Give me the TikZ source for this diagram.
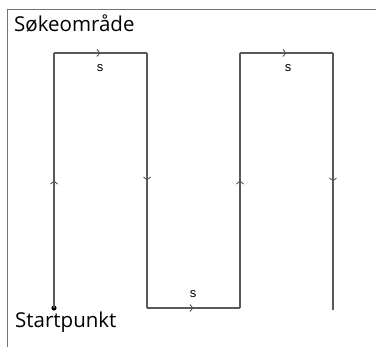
\documentclass[tikz,border=0pt]{standalone}
\usepackage{fontspec}
\setmainfont{Open Sans}
\newfontfamily\labelfont{Liberation Sans}
\usetikzlibrary{positioning, arrows.meta, decorations.markings}

\tikzset{
  track/.style={draw=black!65, line width=1.1pt},
  midarrow/.style={postaction={decorate, decoration={markings,
    mark=at position 0.5 with {\arrow{Straight Barb[length=3pt,width=7pt,line width=0.9pt]}}}}},
  slabel/.style={font=\labelfont\fontsize{13}{13}\selectfont, inner sep=0pt},
  title/.style={font=\fontsize{20.5}{20.5}\selectfont, inner sep=0pt, anchor=base west}
}

\begin{document}
\begin{tikzpicture}[x=1pt, y=-1pt]
\useasboundingbox (0,0) rectangle (376,347);
% frame of the search area
\draw[black!55, line width=1pt] (8,347) -- (8,10) -- (376,10);
\node[title] (omr) at (14,32) {Søkeområde};
% corners of the search path
\coordinate (p0) at (54,308);
\coordinate (p1) at (54,53);
\coordinate (p2) at (147,53);
\coordinate (p3) at (147,308);
\coordinate (p4) at (240,308);
\coordinate (p5) at (240,53);
\coordinate (p6) at (333,53);
\coordinate (p7) at (333,310);
\fill (p0) circle (2.6pt);
\node[title] (start) at (15,328) {Startpunkt};
\draw[track, midarrow] (p0) -- (p1);
\draw[track, midarrow] (p1) -- (p2);
\draw[track, midarrow] (p2) -- (p3);
\draw[track, midarrow] (p3) -- (p4);
\draw[track, midarrow] (p4) -- (p5);
\draw[track, midarrow] (p5) -- (p6);
\draw[track, midarrow] (p6) -- (p7);
\node[slabel] (s1) at (100,68) {s};
\node[slabel] (s2) at (288,68) {s};
\node[slabel] (s3) at (193,294) {s};
\end{tikzpicture}
\end{document}
